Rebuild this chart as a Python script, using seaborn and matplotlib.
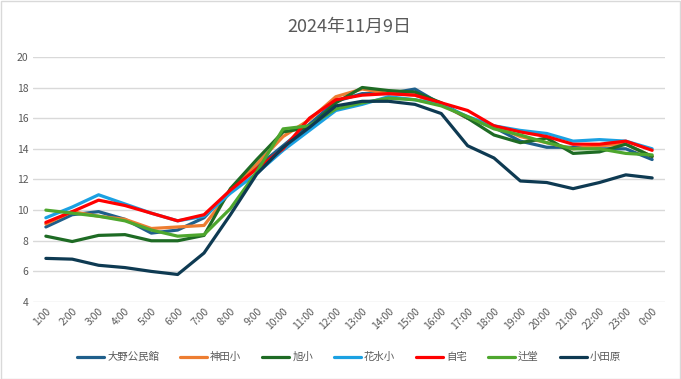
import pandas as pd
import matplotlib
matplotlib.use("Agg")
import matplotlib.pyplot as plt
import seaborn as sns

# 時刻ラベル
hours = [f"{h}:00" for h in range(1, 24)] + ["0:00"]

# 各地点の気温
oono = [8.9, 9.7, 9.9, 9.4, 8.5, 8.7, 9.5, 11.3, 12.8, 14.2, 15.6, 17.1,
        17.6, 17.6, 17.9, 16.9, 16.0, 15.4, 14.5, 14.1, 14.1, 14.0, 14.0, 13.3]
kanda = [9.1, 9.9, 9.6, 9.4, 8.8, 8.9, 9.0, 11.2, 13.0, 14.8, 15.9, 17.4,
         17.9, 17.6, 17.5, 16.9, 16.0, 15.5, 14.8, 14.4, 14.0, 14.2, 14.3, 13.5]
asahi = [8.3, 7.95, 8.35, 8.4, 8.0, 8.0, 8.35, 11.4, 13.3, 15.1, 15.4, 17.0,
         18.0, 17.8, 17.7, 17.0, 16.0, 14.9, 14.4, 14.7, 13.7, 13.8, 14.3, 13.5]
hanamizu = [9.5, 10.2, 11.0, 10.4, 9.8, 9.3, 9.6, 11.1, 12.4, 13.9, 15.2, 16.5,
            16.9, 17.4, 17.2, 16.9, 16.1, 15.5, 15.2, 15.0, 14.5, 14.6, 14.5, 14.0]
jitaku = [9.2, 9.9, 10.65, 10.3, 9.8, 9.3, 9.7, 11.3, 12.7, 14.0, 16.0, 17.2,
          17.5, 17.6, 17.5, 17.0, 16.5, 15.5, 15.1, 14.8, 14.3, 14.3, 14.5, 13.9]
tsujido = [10.0, 9.8, 9.6, 9.3, 8.7, 8.3, 8.4, 10.1, 12.5, 15.3, 15.5, 16.6,
           17.0, 17.3, 17.2, 16.8, 16.1, 15.3, 14.9, 14.4, 14.0, 14.0, 13.7, 13.6]
odawara = [6.85, 6.8, 6.4, 6.25, 6.0, 5.8, 7.2, 9.7, 12.35, 14.1, 15.4, 16.8,
           17.1, 17.1, 16.9, 16.3, 14.2, 13.4, 11.9, 11.8, 11.4, 11.8, 12.3, 12.1]

series = {
    "大野公民館": oono,
    "神田小": kanda,
    "旭小": asahi,
    "花水小": hanamizu,
    "自宅": jitaku,
    "辻堂": tsujido,
    "小田原": odawara,
}
colors = ["#1F5F8B", "#ED7D31", "#1E6B24", "#1BA1E2", "#FF0000", "#4EA72E", "#0E3A52"]

rows = []
for name, vals in series.items():
    for h, v in zip(hours, vals):
        rows.append({"時刻": h, "気温": v, "地点": name})
df = pd.DataFrame(rows)

sns.set_style("white")
plt.rcParams['font.family'] = ['Noto Sans CJK JP', 'DejaVu Sans']

fig = plt.figure(figsize=(6.81, 3.79), dpi=100)
ax = fig.add_axes([0.048, 0.203, 0.929, 0.647])

sns.lineplot(data=df, x="時刻", y="気温", hue="地点", palette=colors,
             linewidth=2.3, sort=False, ax=ax)

ax.set_xlim(-0.5, 23.5)
ax.set_ylim(4, 20)
ax.set_yticks(range(4, 21, 2))
ax.yaxis.grid(True, color="#d9d9d9", linewidth=1)
ax.set_axisbelow(True)
ax.set_xlabel("")
ax.set_ylabel("")
sns.despine(ax=ax, left=True, bottom=True)
ax.tick_params(axis="both", length=0, labelsize=7.5, labelcolor="#595959", pad=3)
plt.setp(ax.get_xticklabels(), rotation=45, ha="right", rotation_mode="anchor")

ax.set_title("2024年11月9日", fontsize=13, color="#595959", pad=18)

ax.legend(loc="upper center", bbox_to_anchor=(0.5, -0.165), ncol=7, frameon=False,
          fontsize=7.5, labelcolor="#595959", handlelength=2.6, columnspacing=2.0,
          handletextpad=0.3)

# グラフエリアの枠線
fig.patches.append(plt.Rectangle((0.001, 0.001), 0.998, 0.997, transform=fig.transFigure,
                                 fill=False, edgecolor="#d9d9d9", linewidth=1))

fig.savefig("out.png", dpi=100)
